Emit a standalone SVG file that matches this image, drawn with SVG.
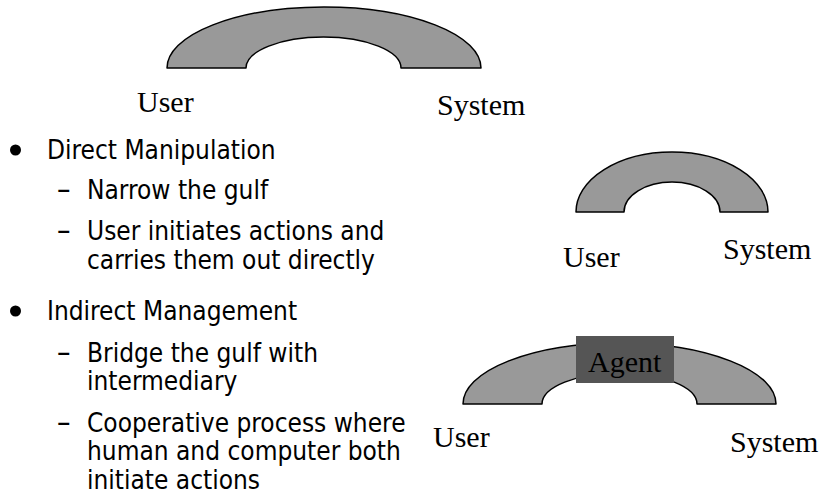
<svg xmlns="http://www.w3.org/2000/svg" width="827" height="494" viewBox="0 0 827 494">
  <style>
    .arch { fill: #999999; stroke: #000000; stroke-width: 1.5; stroke-linejoin: round; }
    .lbl { font-family: "Liberation Serif", "Times New Roman", serif; font-size: 30px; fill: #000000; }
    .txt { font-family: "DejaVu Sans Condensed", "DejaVu Sans", sans-serif; font-stretch: condensed; font-size: 26px; fill: #000000; }
    .dash { font-family: "DejaVu Sans Condensed", "DejaVu Sans", sans-serif; font-stretch: condensed; font-size: 30px; fill: #000000; }
    .agent { fill: #555555; }
  </style>
  <rect width="827" height="494" fill="#ffffff"/>

  <!-- Large gulf between user and system -->
  <g id="gulf-wide">
    <path class="arch" d="M167,68 A157,61 0 0 1 481,68 L401,68 A77.5,31 0 0 0 246,68 Z"/>
    <text class="lbl" x="137" y="112">User</text>
    <text class="lbl" x="437" y="115">System</text>
  </g>

  <!-- Narrowed gulf: direct manipulation -->
  <g id="gulf-narrow">
    <path class="arch" d="M576,212 A96,60 0 0 1 768,212 L720,212 A48,30 0 0 0 624,212 Z"/>
    <text class="lbl" x="563" y="267">User</text>
    <text class="lbl" x="723" y="259">System</text>
  </g>

  <!-- Gulf bridged by an agent -->
  <g id="gulf-agent">
    <path class="arch" d="M463,404 A156.5,61 0 0 1 776,404 L697,404 A77.5,31 0 0 0 542,404 Z"/>
    <rect class="agent" x="576" y="336" width="98" height="47"/>
    <text class="lbl" x="588" y="372">Agent</text>
    <text class="lbl" x="433" y="447">User</text>
    <text class="lbl" x="730" y="452">System</text>
  </g>

  <!-- Bulleted outline -->
  <g id="outline">
    <circle cx="15.5" cy="150" r="5.5" fill="#000000"/>
    <text class="txt" x="47" y="159">Direct Manipulation</text>
    <text class="dash" x="57" y="199">–</text>
    <text class="txt" x="87" y="199">Narrow the gulf</text>
    <text class="dash" x="57" y="240">–</text>
    <text class="txt" x="87" y="240">User initiates actions and</text>
    <text class="txt" x="87" y="269">carries them out directly</text>

    <circle cx="15.5" cy="311" r="5.5" fill="#000000"/>
    <text class="txt" x="47" y="320">Indirect Management</text>
    <text class="dash" x="57" y="362">–</text>
    <text class="txt" x="87" y="362">Bridge the gulf with</text>
    <text class="txt" x="87" y="390">intermediary</text>
    <text class="dash" x="57" y="432">–</text>
    <text class="txt" x="87" y="432">Cooperative process where</text>
    <text class="txt" x="87" y="460">human and computer both</text>
    <text class="txt" x="87" y="489">initiate actions</text>
  </g>
</svg>
